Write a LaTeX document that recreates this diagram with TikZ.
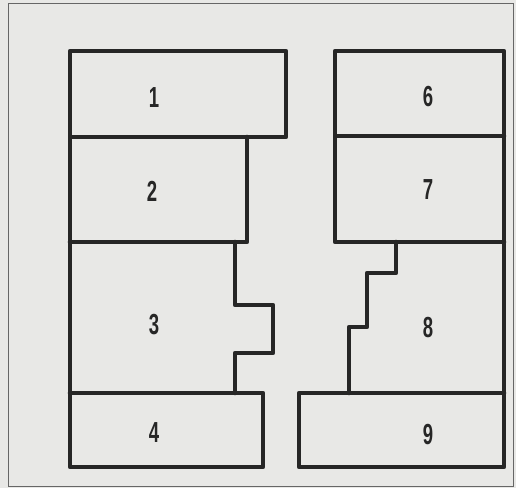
\documentclass[tikz,border=0pt]{standalone}
\usepackage{fontspec}
\setmainfont{Liberation Sans}
\usepackage{tikz}

\definecolor{paper}{HTML}{E8E8E6}

\begin{document}
\begin{tikzpicture}[x=1pt, y=-1pt,
  wall/.style={line width=4.6pt, line join=round, line cap=round, black!85},
  frame/.style={line width=0.8pt, black!60},
  num/.style={font=\bfseries\fontsize{29}{29}\selectfont, xscale=0.64, inner sep=0pt, text=black!85}]
\fill[paper] (0,0) rectangle (516,488);
\useasboundingbox (0,0) rectangle (516,488);
\draw[frame] (8,3) rectangle (513,486);
% left block
\draw[wall] (70,137) -- (70,51) -- (286,51) -- (286,137) -- (70,137) -- (70,467) -- (263,467) -- (263,393) -- (70,393);
\draw[wall] (247,137) -- (247,242) -- (70,242);
\draw[wall] (235,242) -- (235,305) -- (273,305) -- (273,353) -- (235,353) -- (235,393);
% right block
\draw[wall] (504,136) -- (335,136) -- (335,51) -- (504,51) -- (504,467) -- (299,467) -- (299,393) -- (504,393);
\draw[wall] (335,136) -- (335,242) -- (504,242);
\draw[wall] (396,242) -- (396,273) -- (367,273) -- (367,327) -- (349,327) -- (349,393);
% numbers
\node[num] (n1) at (154,98) {1};
\node[num] (n2) at (152,191) {2};
\node[num] (n3) at (154,325) {3};
\node[num] (n4) at (154,433) {4};
\node[num] (n6) at (428,97) {6};
\node[num] (n7) at (428,190) {7};
\node[num] (n8) at (428,328) {8};
\node[num] (n9) at (428,435) {9};
\end{tikzpicture}
\end{document}
